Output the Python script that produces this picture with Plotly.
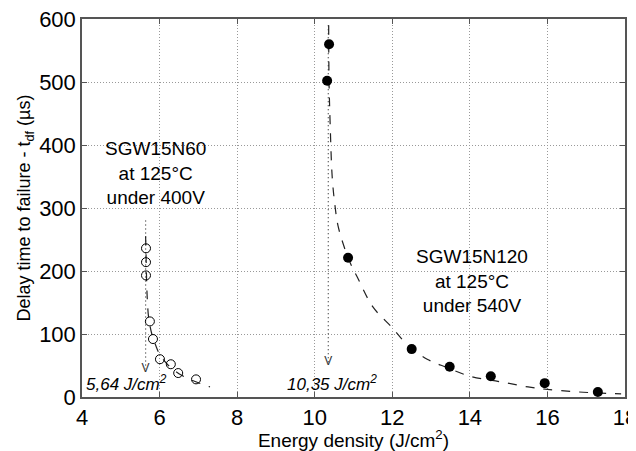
import plotly.graph_objects as go

# N120 measured points (filled)
n120_x = [10.37, 10.32, 10.86, 12.5, 13.48, 14.54, 15.93, 17.3]
n120_y = [560, 502, 221, 76, 48, 33, 22, 8]
# N60 measured points (open)
n60_x = [5.65, 5.65, 5.65, 5.75, 5.83, 6.01, 6.29, 6.48, 6.94]
n60_y = [236, 214, 193, 120, 92, 60, 52, 38, 28]
# fitted curves
fit120_x = [10.36, 10.37, 10.40, 10.45, 10.52, 10.60, 10.75, 10.90, 11.10, 11.50, 12.00, 12.40, 12.90, 13.40, 14.00, 14.80, 15.50, 16.00, 16.80, 17.90]
fit120_y = [590, 500, 430, 350, 305, 272, 240, 215, 190, 143, 110, 82, 60, 47, 33, 24, 16, 12, 8, 5]
fit60_x = [5.64, 5.65, 5.66, 5.68, 5.72, 5.80, 5.90, 6.00, 6.20, 6.50, 6.90, 7.30]
fit60_y = [255, 230, 200, 160, 125, 100, 82, 68, 52, 37, 25, 16]
# asymptotes (J/cm2) and vertical extent of the dotted guides
asym_x = [5.64, 10.35]
asym_top = [280, 590]
asym_bottom = [45, 55]
asym_labels = ["5,64 J/cm<sup>2</sup>", "10,35 J/cm<sup>2</sup>"]
asym_label_x = [5.15, 10.45]
asym_label_y = [22, 22]

FONT = "Liberation Sans, Arial, sans-serif"

fig = go.Figure()
for i in range(2):
    fig.add_trace(go.Scatter(x=[asym_x[i], asym_x[i]], y=[asym_top[i], asym_bottom[i]],
                             mode="lines", line=dict(color="#333", width=1.2, dash="1px,3px"),
                             showlegend=False, hoverinfo="skip"))
    fig.add_trace(go.Scatter(x=[asym_x[i]], y=[asym_bottom[i]], mode="text", text=["V"],
                             textposition="middle center",
                             textfont=dict(family=FONT, size=12, color="#333"),
                             showlegend=False, hoverinfo="skip"))
fig.add_trace(go.Scatter(x=fit120_x, y=fit120_y, mode="lines", line=dict(color="#222", width=1.2, dash="dash", shape="spline"),
                         showlegend=False))
fig.add_trace(go.Scatter(x=fit60_x, y=fit60_y, mode="lines", line=dict(color="#222", width=1.2, dash="dash", shape="spline"),
                         showlegend=False))
fig.add_trace(go.Scatter(x=n120_x, y=n120_y, mode="markers",
                         marker=dict(color="black", size=10, symbol="circle"), showlegend=False))
fig.add_trace(go.Scatter(x=n60_x, y=n60_y, mode="markers",
                         marker=dict(color="black", size=9, symbol="circle-open", line=dict(width=1)),
                         showlegend=False))

for i in range(2):
    fig.add_annotation(x=asym_label_x[i], y=asym_label_y[i], text="<i>" + asym_labels[i] + "</i>",
                       showarrow=False, font=dict(family=FONT, size=17, color="black"))

fig.add_annotation(x=5.9, y=355, text="SGW15N60<br>at 125°C<br>under 400V", showarrow=False,
                   font=dict(family=FONT, size=19, color="black"), align="center")
fig.add_annotation(x=14.05, y=184, text="SGW15N120<br>at 125°C<br>under 540V", showarrow=False,
                   font=dict(family=FONT, size=19, color="black"), align="center")

axis_common = dict(showgrid=True, gridcolor="#999", griddash="1px,2px", gridwidth=1,
                   showline=True, linecolor="#555", linewidth=1.5, mirror="ticks",
                   ticks="inside", ticklen=5, tickcolor="#555", zeroline=False, automargin=False,
                   ticklabeloverflow="allow",
                   tickfont=dict(family=FONT, size=22, color="black"))
fig.update_xaxes(range=[4, 18], dtick=2, tick0=4,
                 title=dict(text="Energy density (J/cm<sup>2</sup>)", font=dict(family=FONT, size=19, color="black"), standoff=4),
                 **axis_common)
fig.update_yaxes(range=[0, 600], dtick=100,
                 title=dict(text="Delay time to failure - t<sub>df</sub> (µs)", font=dict(family=FONT, size=18, color="black"), standoff=4),
                 **axis_common)
fig.update_layout(width=628, height=443, margin=dict(l=74, r=11, t=11, b=54),
                  plot_bgcolor="white", paper_bgcolor="white")
fig.write_html("out.html")
